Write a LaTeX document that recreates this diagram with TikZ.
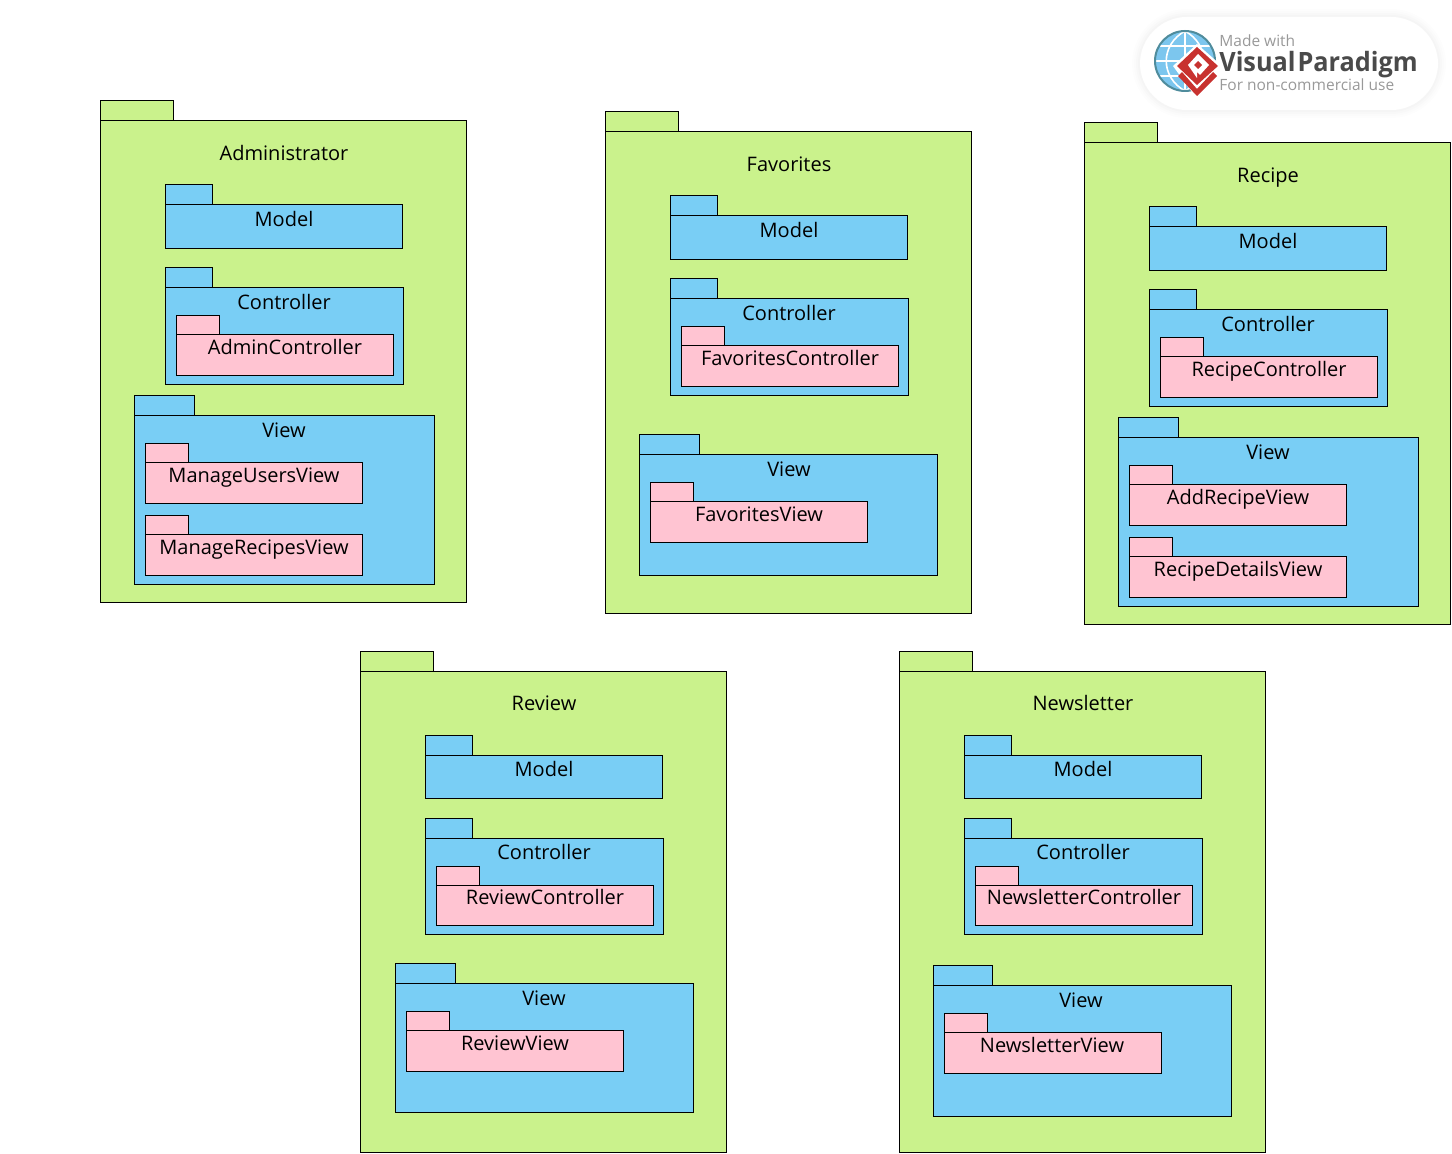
\documentclass[tikz,border=0pt]{standalone}
\usepackage{fontspec}
\setmainfont{Open Sans}
\usepackage{tikz}
\definecolor{pkggreen}{HTML}{CAF28C}
\definecolor{pkgblue}{HTML}{79CEF5}
\definecolor{pkgpink}{HTML}{FFC4D2}
\definecolor{vpred}{HTML}{C8322F}
\definecolor{vpblue}{HTML}{7CC6EE}
\definecolor{vpteal}{HTML}{4F8C9C}
\definecolor{vpgray}{HTML}{999999}
\definecolor{vpdark}{HTML}{4A4A4A}
\tikzset{
	pkgline/.style={draw=black,line width=0.5pt},
	outerpkg/.style={pkgline,fill=pkggreen},
	midpkg/.style={pkgline,fill=pkgblue},
	innerpkg/.style={pkgline,fill=pkgpink},
	pkglabel/.style={inner sep=0pt,text height=7.3pt,text depth=0pt,font=\fontsize{10}{12}\selectfont},
}
% style, left, top of tab, tab right, top of body, right, bottom
\newcommand*{\pkgbox}[7]{%
	\filldraw[#1] (#2+0.2,#3+0.7) rectangle (#4-0.2,#5-0.2);
	\filldraw[#1] (#2+0.2,#5-0.2) rectangle (#6-0.1,#7+0.2);
}
\begin{document}
\begin{tikzpicture}[x=0.5pt,y=-0.5pt]
	\useasboundingbox (0,0) rectangle (1452,1154);
	
	% logo
	\foreach \i/\o in {16/0.006,12/0.008,8/0.01,4/0.012} {
		\draw[black,opacity=\o,line width=\i*0.5pt,rounded corners=23.5pt] (1140,17) rectangle (1438,110);
	}
	\fill[white,rounded corners=23.5pt] (1140,17) rectangle (1438,110);
	\fill[vpblue] (1185,61) circle (30);
	\draw[white,line width=0.8pt] (1185,31) -- (1185,91) (1155,61) -- (1215,61) (1158,46) -- (1212,46) (1158,76) -- (1212,76);
	\draw[white,line width=0.8pt] (1185,31) .. controls (1160,45) and (1160,77) .. (1185,91);
	\draw[white,line width=0.8pt] (1185,31) .. controls (1210,45) and (1210,77) .. (1185,91);
	\draw[vpteal,line width=1pt] (1185,61) circle (30);
	\fill[white] (1197,44) -- (1222,66) -- (1197,99) -- (1173,66) -- cycle;
	\fill[vpred] (1178,76) -- (1197,96) -- (1217,76) -- (1213,72) -- (1197,89) -- (1182,72) -- cycle;
	\fill[vpred] (1197,47) -- (1218,66) -- (1197,85) -- (1177,66) -- cycle;
	\fill[white] (1188,65) -- (1198,54) -- (1209,65) -- (1200,75) -- (1197,72) -- (1197,78) -- cycle;
	\fill[vpred] (1194,65) -- (1198,61) -- (1202,65) -- (1198,69) -- cycle;
	\node[inner sep=0pt,anchor=west,text=vpgray,text height=5.8pt,text depth=0pt,font=\fontsize{7.75}{9}\selectfont] (logotop) at (1219,41) {Made with};
	\begin{scope}[xscale=0.95]
		\node[transform shape,inner sep=0pt,anchor=west,text=vpdark,text height=10pt,text depth=0pt,font=\fontsize{13.3}{16}\selectfont\bfseries] (logomid) at (1219/0.95,62) {Visual\kern1pt Paradigm};
	\end{scope}
	\node[inner sep=0pt,anchor=west,text=vpgray,text height=5.8pt,text depth=0pt,font=\fontsize{7.75}{9}\selectfont] (logobot) at (1219,85) {For non-commercial use};
	
	% the five outer packages, all with a model and a controller
	\foreach \pname/\cname/\dx/\dy in {Administrator/AdminController/0/0,Favorites/FavoritesController/505/11,Recipe/RecipeController/984/22,Review/ReviewController/260/550.5,Newsletter/NewsletterController/799/550.5} {
		\begin{scope}[shift={(\dx,\dy)}]
			\pkgbox{outerpkg}{100}{100}{174}{121}{467}{602}
			\node[pkglabel] (title\pname) at (284,153) {\pname};
			\pkgbox{midpkg}{165}{184}{213}{205}{403}{248}
			\node[pkglabel] (model\pname) at (284,219) {Model};
			\pkgbox{midpkg}{165}{267}{213}{288}{404}{384}
			\node[pkglabel] (ctrl\pname) at (284,302) {Controller};
			\pkgbox{innerpkg}{176}{315}{220}{335}{394}{375}
			\node[pkglabel] (inner\pname) at (285,347) {\cname};
		\end{scope}
	}
	
	% Administrator view
	\pkgbox{midpkg}{134}{395}{195}{416}{435}{584}
	\node[pkglabel] (viewAdmin) at (284,430) {View};
	\pkgbox{innerpkg}{145}{443}{189}{463}{363}{503}
	\node[pkglabel] (usersView) at (254,475) {ManageUsersView};
	\pkgbox{innerpkg}{145}{515}{189}{535}{363}{575}
	\node[pkglabel] (recipesView) at (254,547) {ManageRecipesView};
	
	% Favorites view
	\pkgbox{midpkg}{639}{434}{700}{455}{938}{575}
	\node[pkglabel] (viewFav) at (789,469) {View};
	\pkgbox{innerpkg}{650}{482}{694}{502}{868}{542}
	\node[pkglabel] (favView) at (759,514) {FavoritesView};
	
	% Recipe view
	\pkgbox{midpkg}{1118}{417}{1179}{438}{1419}{606}
	\node[pkglabel] (viewRecipe) at (1268,452) {View};
	\pkgbox{innerpkg}{1129}{465}{1173}{485}{1347}{525}
	\node[pkglabel] (addView) at (1238,497) {AddRecipeView};
	\pkgbox{innerpkg}{1129}{537}{1173}{557}{1347}{597}
	\node[pkglabel] (detailsView) at (1238,569) {RecipeDetailsView};
	
	% Review view
	\pkgbox{midpkg}{395}{963}{456}{984}{694}{1112}
	\node[pkglabel] (viewReview) at (544,998) {View};
	\pkgbox{innerpkg}{406}{1011}{450}{1031}{624}{1071}
	\node[pkglabel] (reviewView) at (515,1043) {ReviewView};
	
	% Newsletter view
	\pkgbox{midpkg}{933}{965}{993}{986}{1232}{1116}
	\node[pkglabel] (viewNews) at (1081,1000) {View};
	\pkgbox{innerpkg}{944}{1013}{988}{1033}{1162}{1073}
	\node[pkglabel] (newsView) at (1052,1045) {NewsletterView};
\end{tikzpicture}
\end{document}
